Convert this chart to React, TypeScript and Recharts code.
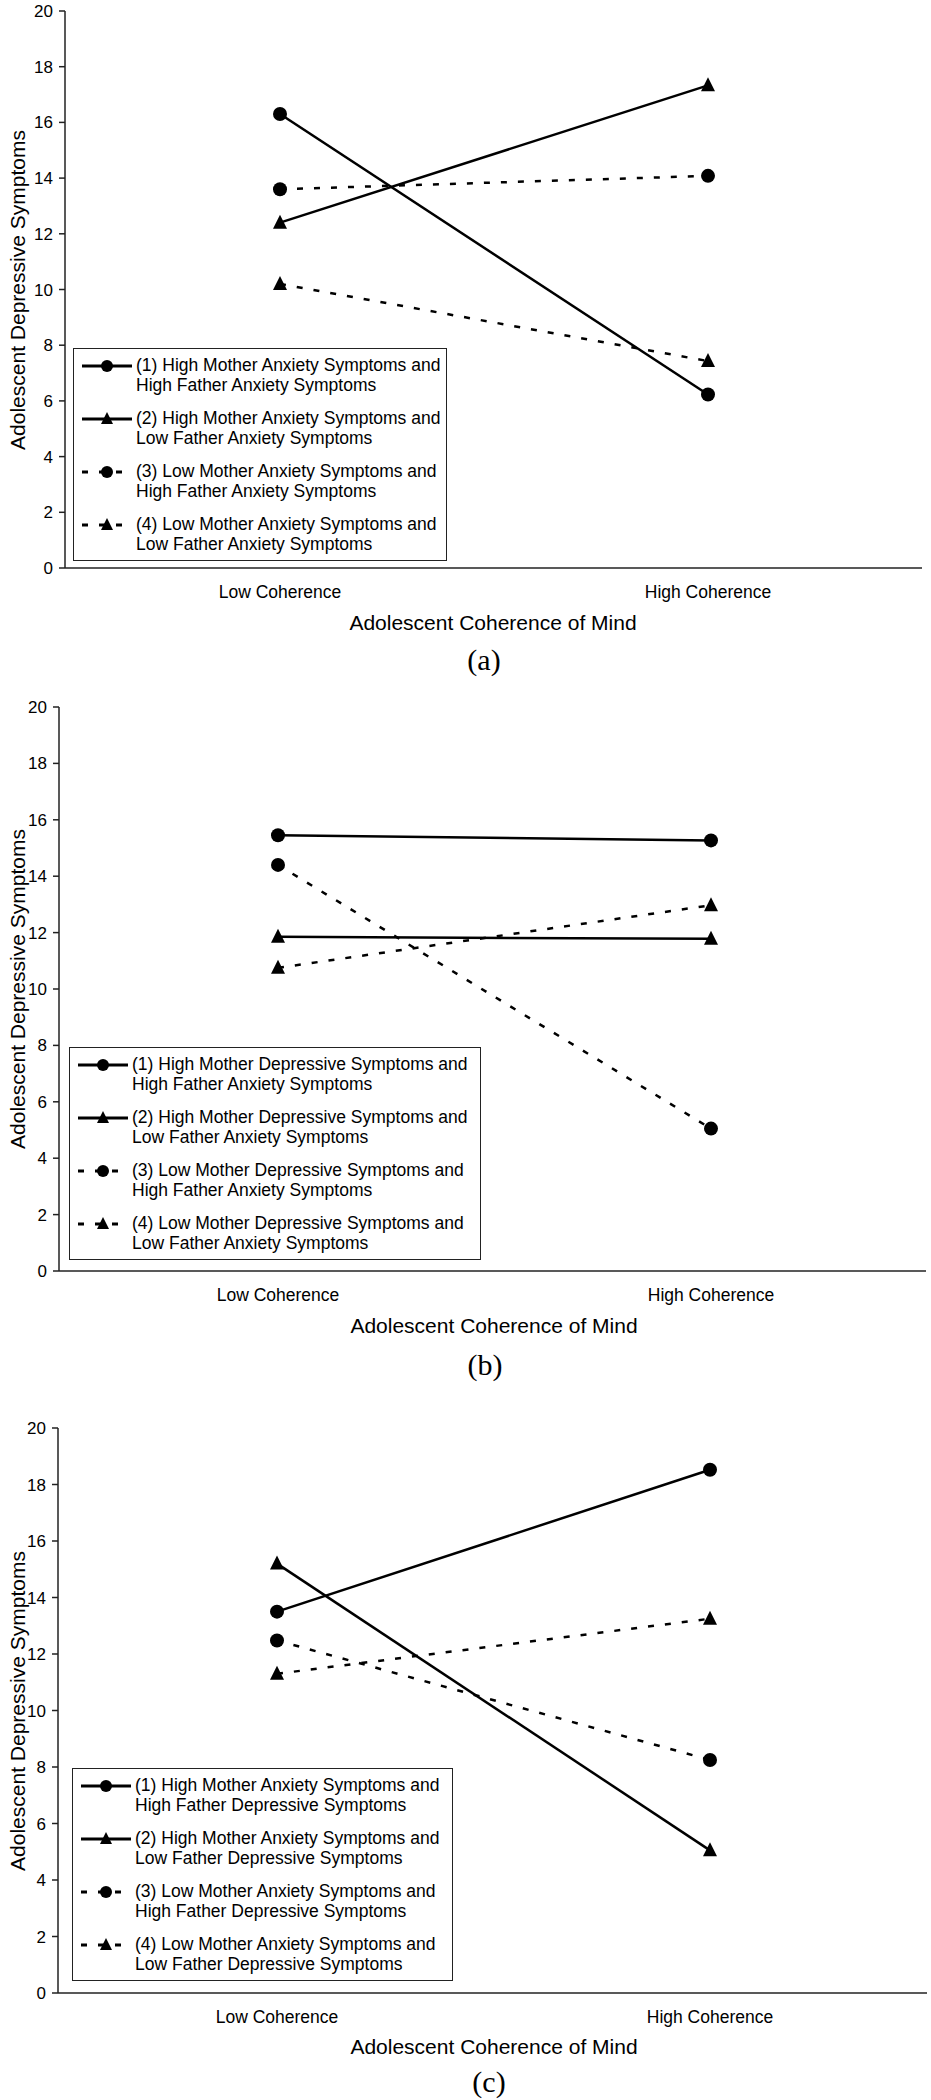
import React from "react";
import { Legend, Line, LineChart, XAxis, YAxis } from "recharts";

const FONT = '"Liberation Sans", Arial, sans-serif';

const categories = ["Low Coherence", "High Coherence"];
const yTicks = [0, 2, 4, 6, 8, 10, 12, 14, 16, 18, 20];

// (a) mother anxiety x father anxiety
const aHighHigh = [16.3, 6.23];
const aHighLow = [12.4, 17.33];
const aLowHigh = [13.6, 14.08];
const aLowLow = [10.2, 7.43];

// (b) mother depressive x father anxiety
const bHighHigh = [15.45, 15.27];
const bHighLow = [11.85, 11.78];
const bLowHigh = [14.4, 5.05];
const bLowLow = [10.75, 12.97];

// (c) mother anxiety x father depressive
const cHighHigh = [13.5, 18.52];
const cHighLow = [15.2, 5.05];
const cLowHigh = [12.48, 8.25];
const cLowLow = [11.3, 13.25];

const legendA = [
  ["(1) High Mother Anxiety Symptoms and", "High Father Anxiety Symptoms"],
  ["(2) High Mother Anxiety Symptoms and", "Low Father Anxiety Symptoms"],
  ["(3) Low Mother Anxiety Symptoms and", "High Father Anxiety Symptoms"],
  ["(4) Low Mother Anxiety Symptoms and", "Low Father Anxiety Symptoms"],
];
const legendB = [
  ["(1) High Mother Depressive Symptoms and", "High Father Anxiety Symptoms"],
  ["(2) High Mother Depressive Symptoms and", "Low Father Anxiety Symptoms"],
  ["(3) Low Mother Depressive Symptoms and", "High Father Anxiety Symptoms"],
  ["(4) Low Mother Depressive Symptoms and", "Low Father Anxiety Symptoms"],
];
const legendC = [
  ["(1) High Mother Anxiety Symptoms and", "High Father Depressive Symptoms"],
  ["(2) High Mother Anxiety Symptoms and", "Low Father Depressive Symptoms"],
  ["(3) Low Mother Anxiety Symptoms and", "High Father Depressive Symptoms"],
  ["(4) Low Mother Anxiety Symptoms and", "Low Father Depressive Symptoms"],
];

const yTitle = "Adolescent Depressive Symptoms";
const xTitle = "Adolescent Coherence of Mind";

// series styling: circle/triangle markers, solid/dashed lines
const seriesStyle = [
  { key: "s1", shape: "circle", dashed: false },
  { key: "s2", shape: "triangle", dashed: false },
  { key: "s3", shape: "circle", dashed: true },
  { key: "s4", shape: "triangle", dashed: true },
];

const DASH = "6 11";
const Y_W = 50;

interface PanelLayout {
  caption: string;
  series: number[][];
  legend: string[][];
  top: number;
  plot: { left: number; right: number; top: number; bottom: number };
  pad: [number, number];
  legendBox: { left: number; top: number; width: number };
  titles: { yX: number; xX: number; xY: number; capX: number; capY: number };
}

const panels: PanelLayout[] = [
  {
    caption: "(a)",
    series: [aHighHigh, aHighLow, aLowHigh, aLowLow],
    legend: legendA,
    top: 0,
    plot: { left: 65, right: 922, top: 11, bottom: 568 },
    pad: [215, 214],
    legendBox: { left: 73, top: 348, width: 374 },
    titles: { yX: 18, xX: 493, xY: 623, capX: 484, capY: 660 },
  },
  {
    caption: "(b)",
    series: [bHighHigh, bHighLow, bLowHigh, bLowLow],
    legend: legendB,
    top: 680,
    plot: { left: 59, right: 926, top: 707, bottom: 1271 },
    pad: [219, 215],
    legendBox: { left: 69, top: 1047, width: 412 },
    titles: { yX: 18, xX: 494, xY: 1326, capX: 485, capY: 1365 },
  },
  {
    caption: "(c)",
    series: [cHighHigh, cHighLow, cLowHigh, cLowLow],
    legend: legendC,
    top: 1400,
    plot: { left: 58, right: 927, top: 1428, bottom: 1993 },
    pad: [219, 217],
    legendBox: { left: 72, top: 1768, width: 381 },
    titles: { yX: 18, xX: 494, xY: 2047, capX: 489, capY: 2082 },
  },
];

function CircleDot(props: any) {
  const { cx, cy } = props;
  if (cx == null || cy == null) return null;
  return <circle key={props.key ?? `c-${cx}-${cy}`} cx={cx} cy={cy} r={7} fill="#000" />;
}

function TriangleDot(props: any) {
  const { cx, cy } = props;
  if (cx == null || cy == null) return null;
  return (
    <polygon
      key={props.key ?? `t-${cx}-${cy}`}
      points={`${cx},${cy - 8} ${cx - 7},${cy + 6} ${cx + 7},${cy + 6}`}
      fill="#000"
    />
  );
}

function LegendSymbol({ shape, dashed }: { shape: string; dashed: boolean }) {
  return (
    <svg width={52} height={20} style={{ position: "absolute", left: 8, top: 0 }}>
      <line x1={0} x2={50} y1={10} y2={10} stroke="#000" strokeWidth={3} strokeDasharray={dashed ? DASH : undefined} />
      {shape === "circle" ? (
        <circle cx={25} cy={10} r={6} fill="#000" />
      ) : (
        <polygon points="25,3 19,15 31,15" fill="#000" />
      )}
    </svg>
  );
}

function LegendBox({ labels, width }: { labels: string[][]; width: number }) {
  return (
    <div
      style={{
        width,
        boxSizing: "border-box",
        border: "1.5px solid #222",
        background: "#fff",
        padding: "7px 0 6px 0",
        fontFamily: FONT,
        fontSize: 17.5,
        lineHeight: "19.5px",
        color: "#000",
        textAlign: "left",
      }}
    >
      {labels.map((lines, i) => (
        <div key={i} style={{ position: "relative", paddingLeft: 62, marginBottom: i < labels.length - 1 ? 14 : 0, whiteSpace: "nowrap" }}>
          <LegendSymbol shape={seriesStyle[i].shape} dashed={seriesStyle[i].dashed} />
          <div>{lines[0]}</div>
          <div>{lines[1]}</div>
        </div>
      ))}
    </div>
  );
}

function Panel({ p }: { p: PanelLayout }) {
  const data = categories.map((cat, i) => ({
    cat,
    s1: p.series[0][i],
    s2: p.series[1][i],
    s3: p.series[2][i],
    s4: p.series[3][i],
  }));
  const xAxisH = 44;
  const chartH = p.plot.bottom - p.top + xAxisH;
  const axisStyle = { stroke: "#222", strokeWidth: 1.5 };

  return (
    <>
      <div style={{ position: "absolute", left: 0, top: p.top, width: 931, height: chartH }}>
        <LineChart
          width={931}
          height={chartH}
          data={data}
          margin={{ top: p.plot.top - p.top, right: 931 - p.plot.right, bottom: 0, left: p.plot.left - Y_W }}
        >
          <XAxis
            dataKey="cat"
            height={xAxisH}
            tickLine={false}
            axisLine={axisStyle}
            padding={{ left: p.pad[0], right: p.pad[1] }}
            tick={{ fill: "#000", fontSize: 17.5, fontFamily: FONT }}
            tickMargin={12}
            interval={0}
          />
          <YAxis
            type="number"
            domain={[0, 20]}
            ticks={yTicks}
            width={Y_W}
            axisLine={axisStyle}
            tickLine={axisStyle}
            tickSize={6}
            tickMargin={6}
            tick={{ fill: "#000", fontSize: 17, fontFamily: FONT }}
            interval={0}
          />
          <Legend
            layout="vertical"
            align="center"
            verticalAlign="middle"
            wrapperStyle={{ left: p.legendBox.left, top: p.legendBox.top - p.top, width: p.legendBox.width, height: "auto" }}
            content={() => <LegendBox labels={p.legend} width={p.legendBox.width} />}
          />
          {seriesStyle.map((s) => (
            <Line
              key={s.key}
              dataKey={s.key}
              type="linear"
              stroke="#000"
              strokeWidth={2.5}
              strokeDasharray={s.dashed ? DASH : undefined}
              dot={s.shape === "circle" ? CircleDot : TriangleDot}
              activeDot={false}
              isAnimationActive={false}
            />
          ))}
        </LineChart>
      </div>
      <div
        style={{
          position: "absolute",
          left: p.titles.yX,
          top: (p.plot.top + p.plot.bottom) / 2,
          transform: "translate(-50%, -50%) rotate(-90deg)",
          fontFamily: FONT,
          fontSize: 21,
          color: "#000",
          whiteSpace: "nowrap",
        }}
      >
        {yTitle}
      </div>
      <div
        style={{
          position: "absolute",
          left: p.titles.xX,
          top: p.titles.xY,
          transform: "translate(-50%, -50%)",
          fontFamily: FONT,
          fontSize: 21,
          color: "#000",
          whiteSpace: "nowrap",
        }}
      >
        {xTitle}
      </div>
      <div
        style={{
          position: "absolute",
          left: p.titles.capX,
          top: p.titles.capY,
          transform: "translate(-50%, -50%)",
          fontFamily: '"Liberation Serif", "Times New Roman", serif',
          fontSize: 30,
          color: "#000",
          whiteSpace: "nowrap",
        }}
      >
        {p.caption}
      </div>
    </>
  );
}

export default function App() {
  return (
    <div style={{ position: "absolute", left: 0, top: 0, width: 931, height: 2100, background: "#fff" }}>
      {panels.map((p) => (
        <Panel key={p.caption} p={p} />
      ))}
    </div>
  );
}
